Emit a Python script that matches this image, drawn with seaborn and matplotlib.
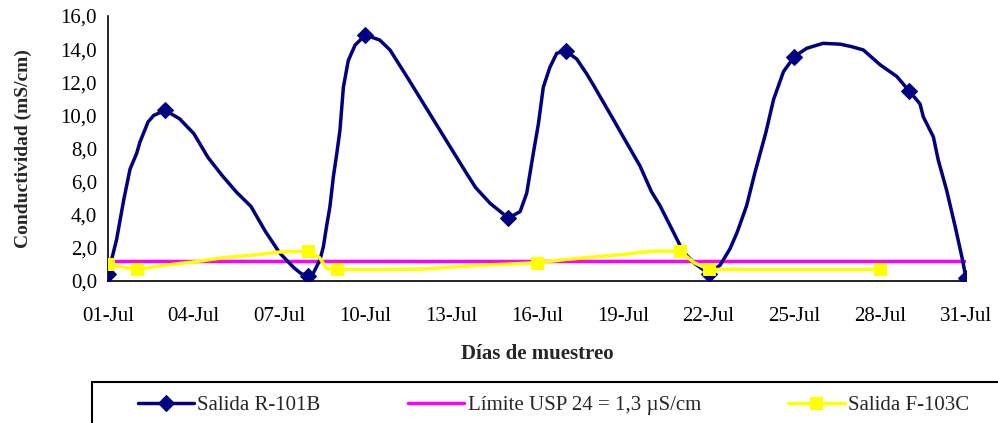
import matplotlib
matplotlib.use("Agg")
import matplotlib.pyplot as plt
import matplotlib.patches as mpatches
import seaborn as sns

# ---- data (day of July, value in mS/cm) ----
navy_days = [1, 1.3, 1.55, 1.77, 2, 2.12, 2.4, 2.6, 3,
             3.5, 4, 4.5, 5, 5.5, 6, 6.5, 7, 7.5, 7.75, 8,
             8.18, 8.41, 8.53, 8.64, 8.76, 8.88, 9, 9.11, 9.23, 9.4, 9.64, 10,
             10.5, 10.86, 11.5, 12, 12.5, 13, 13.5, 13.85, 14.36, 15,
             15.41, 15.64, 15.87, 16.05, 16.22, 16.45, 16.69, 17,
             17.39, 17.74, 18, 18.67, 19, 19.6, 20, 20.3, 20.77, 21, 21.23, 21.52, 22,
             22.4, 22.75, 23, 23.33, 23.62, 24, 24.27, 24.62, 25,
             25.43, 26, 26.6, 27, 27.41, 28, 28.58, 29,
             29.39, 29.51, 29.86, 30.03, 30.32, 30.62, 30.85, 31]
navy_vals = [0.42, 2.5, 4.9, 6.75, 7.7, 8.4, 9.6, 10.0, 10.3,
             9.8, 8.9, 7.45, 6.35, 5.35, 4.5, 3.0, 1.7, 0.8, 0.45, 0.3,
             0.48, 1.27, 2.07, 3.28, 4.49, 6.3, 7.7, 9.1, 11.7, 13.3, 14.25, 14.85,
             14.55, 13.95, 12.2, 10.8, 9.4, 8.0, 6.6, 5.65, 4.69, 3.8,
             4.19, 5.3, 7.7, 9.5, 11.7, 12.9, 13.75, 13.9,
             13.4, 12.5, 11.75, 9.75, 8.75, 6.95, 5.4, 4.55, 2.95, 2.15, 1.55, 1.05, 0.45,
             0.95, 1.95, 2.95, 4.55, 6.55, 8.95, 10.95, 12.65, 13.55,
             14.05, 14.35, 14.3, 14.15, 13.95, 13.05, 12.35, 11.5,
             10.7, 9.9, 8.7, 7.3, 5.5, 3.3, 1.5, 0.2]
navy_marker_days = [1, 3, 8, 10, 15, 17, 22, 25, 29, 31]

limit_days = [1, 31]
limit_vals = [1.2, 1.2]

yellow_days = [1, 2, 3, 4, 5, 6, 7, 8, 8.4, 8.65, 9, 10, 11, 12, 13, 14, 15, 16, 17, 18, 19, 20,
               21, 21.5, 22, 23, 24, 25, 26, 27, 28]
yellow_vals = [1.0, 0.7, 0.95, 1.15, 1.4, 1.55, 1.75, 1.8, 1.4, 0.75, 0.7, 0.7, 0.7, 0.72, 0.85,
               0.95, 1.02, 1.1, 1.3, 1.45, 1.6, 1.8, 1.8, 1.1, 0.7, 0.7, 0.7, 0.7, 0.7, 0.7, 0.7]
yellow_marker_days = [1, 2, 8, 9, 16, 21, 22, 28]

tick_days = [1, 4, 7, 10, 13, 16, 19, 22, 25, 28, 31]
tick_labels = ["01-Jul", "04-Jul", "07-Jul", "10-Jul", "13-Jul", "16-Jul", "19-Jul", "22-Jul",
               "25-Jul", "28-Jul", "31-Jul"]
names = ["Salida R-101B", "Límite USP 24 = 1,3 µS/cm", "Salida F-103C"]

sns.set_style("white")
plt.rcParams["font.family"] = ["Liberation Serif", "DejaVu Serif"]

W, H = 998, 423
fig = plt.figure(figsize=(W / 100, H / 100), dpi=100)
ax = fig.add_axes([108 / W, 1 - 281 / H, (966 - 108) / W, (281 - 16) / H])

navy = "#000080"
mag = "#FF00FF"
yel = "#FFFF00"

sns.lineplot(x=navy_days, y=navy_vals, ax=ax, color=navy, lw=2.5, sort=False, estimator=None,
             marker="D", ms=8, mec=navy, mfc=navy,
             markevery=[navy_days.index(d) for d in navy_marker_days], label=names[0], zorder=3)
sns.lineplot(x=limit_days, y=limit_vals, ax=ax, color=mag, lw=2.5, sort=False, estimator=None,
             label=names[1], zorder=2)
sns.lineplot(x=yellow_days, y=yellow_vals, ax=ax, color=yel, lw=2.5, sort=False, estimator=None,
             marker="s", ms=9, mec=yel, mfc=yel,
             markevery=[yellow_days.index(d) for d in yellow_marker_days], label=names[2], zorder=4)

ax.set_xlim(1, 31)
ax.set_ylim(0, 16)
ax.set_yticks(range(0, 17, 2))
ax.set_yticklabels([f"{v:.1f}".replace(".", ",") for v in range(0, 17, 2)])
ax.set_xticks(tick_days)
ax.set_xticklabels(tick_labels)
ax.tick_params(axis="both", direction="out", length=5, width=1, color="black",
               labelsize=15, labelcolor="black")
ax.tick_params(axis="x", pad=14)
ax.tick_params(axis="y", pad=3)
for s in ["top", "right"]:
    ax.spines[s].set_visible(False)
for s in ["left", "bottom"]:
    ax.spines[s].set_color("black")
    ax.spines[s].set_linewidth(1.2)
ax.set_facecolor("white")

ax.set_xlabel("Días de muestreo", fontsize=15, fontweight="bold", labelpad=13)
ax.set_ylabel("Conductividad (mS/cm)", fontsize=14, fontweight="bold", labelpad=20)

ax.get_legend().remove()
handles, labels = ax.get_legend_handles_labels()
leg = fig.legend(handles, labels, loc="center left", bbox_to_anchor=(138 / W, 1 - 405 / H),
                 ncol=3, frameon=False, borderpad=0, borderaxespad=0, fontsize=15,
                 handlelength=2.7, handletextpad=0.15, columnspacing=4.2)
rect = mpatches.Rectangle((92 / W, -0.1), 1.0, 1 - 382 / H + 0.1, transform=fig.transFigure,
                          fill=False, edgecolor="black", lw=1.5, clip_on=False)
fig.patches.append(rect)

fig.savefig("out.png", dpi=100, facecolor="white")
